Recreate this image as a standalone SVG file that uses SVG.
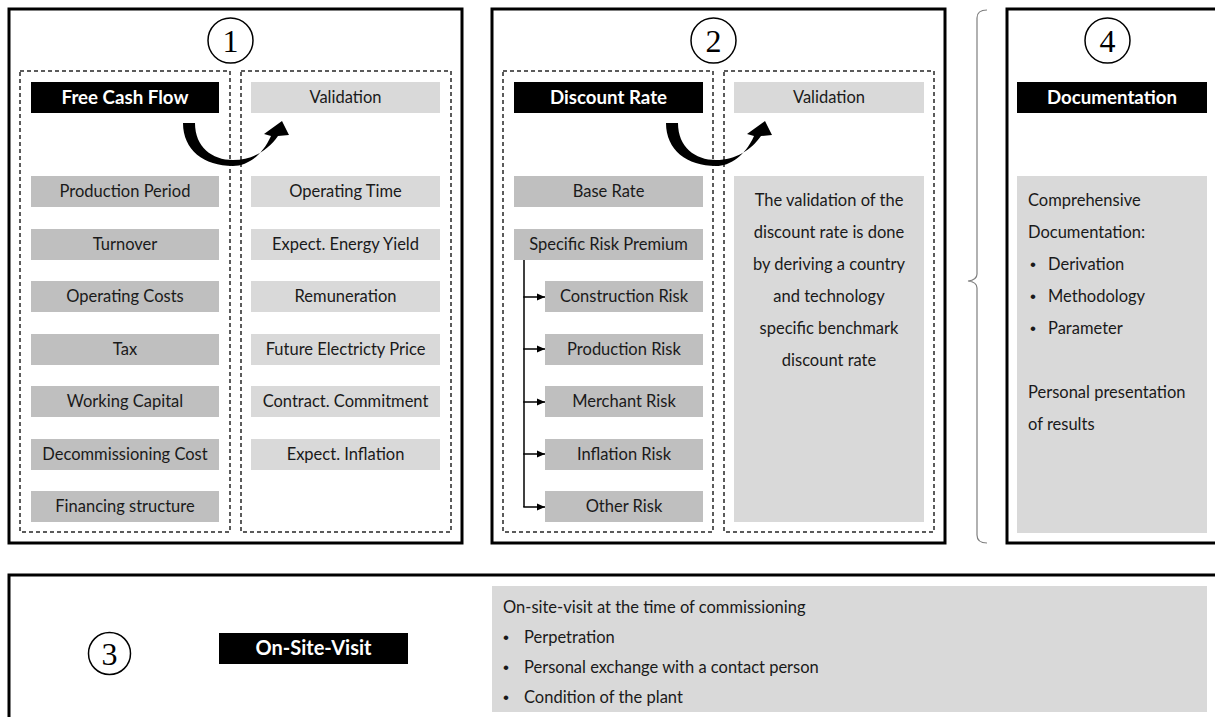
<svg xmlns="http://www.w3.org/2000/svg" width="1215" height="717" viewBox="0 0 1215 717">
<defs>
<style>
.panel{fill:none;stroke:#000;stroke-width:3}
.dash{fill:none;stroke:#262626;stroke-width:1.5;stroke-dasharray:4 3}
.hdr{fill:#000}
.hdrt{font-family:Lato,"Liberation Sans",sans-serif;font-weight:bold;font-size:18.7px;fill:#fff;text-anchor:middle}
.dk{fill:#bfbfbf}
.lt{fill:#d9d9d9}
.t{font-family:Lato,"Liberation Sans",sans-serif;font-size:16.5px;fill:#1a1a1a;text-anchor:middle}
.tl{font-family:Lato,"Liberation Sans",sans-serif;font-size:16.5px;fill:#1a1a1a}
.bul{font-family:"Liberation Sans",sans-serif;font-size:17px;fill:#1a1a1a;text-anchor:middle}
.circ{fill:#fff;stroke:#000;stroke-width:1.5}
.num{font-family:"Liberation Serif",serif;font-size:32px;fill:#000;text-anchor:middle}
.conn{fill:none;stroke:#000;stroke-width:1.5}
.curv{fill:#000}
</style>
<marker id="ah" markerWidth="8" markerHeight="8" refX="8" refY="4" orient="auto" markerUnits="userSpaceOnUse">
<path d="M0,0.5 L8,4 L0,7.5 Z" fill="#000"/>
</marker>
<path id="carrow" d="M183,123 L195,123 C195,147 212,160 233,160 C253,160 268,150 278,136 L289,135 L282,121 L264,134 L271,136 C262,156 247,166 233,166 C204,166 183,150 183,123 Z"/>
</defs>
<rect width="1215" height="717" fill="#fff"/>

<g id="panel1">
<rect class="panel" x="9" y="9" width="453" height="534"/>
<rect class="dash" x="20" y="71" width="210" height="461"/>
<rect class="dash" x="241" y="71" width="210" height="461"/>
<circle class="circ" cx="230.5" cy="40.5" r="22.5"/>
<text class="num" x="230.5" y="52">1</text>
</g>
<g id="fcf-header"><rect class="hdr" x="31" y="82" width="188" height="31"/><text class="hdrt" x="125" y="103.5">Free Cash Flow</text></g>
<g id="val1-header"><rect class="lt" x="251" y="82" width="189" height="31"/><text class="t" x="345.5" y="103">Validation</text></g>
<g id="fcf-items">
<g id="production-period"><rect class="dk" x="31" y="176" width="188" height="31"/><text class="t" x="125" y="197">Production Period</text></g>
<g id="turnover"><rect class="dk" x="31" y="229" width="188" height="31"/><text class="t" x="125" y="250">Turnover</text></g>
<g id="operating-costs"><rect class="dk" x="31" y="281" width="188" height="31"/><text class="t" x="125" y="302">Operating Costs</text></g>
<g id="tax"><rect class="dk" x="31" y="334" width="188" height="31"/><text class="t" x="125" y="355">Tax</text></g>
<g id="working-capital"><rect class="dk" x="31" y="386" width="188" height="31"/><text class="t" x="125" y="407">Working Capital</text></g>
<g id="decommissioning"><rect class="dk" x="31" y="439" width="188" height="31"/><text class="t" x="125" y="460">Decommissioning Cost</text></g>
<g id="financing"><rect class="dk" x="31" y="491" width="188" height="31"/><text class="t" x="125" y="512">Financing structure</text></g>
</g>
<g id="val1-items">
<g id="operating-time"><rect class="lt" x="251" y="176" width="189" height="31"/><text class="t" x="345.5" y="197">Operating Time</text></g>
<g id="energy-yield"><rect class="lt" x="251" y="229" width="189" height="31"/><text class="t" x="345.5" y="250">Expect. Energy Yield</text></g>
<g id="remuneration"><rect class="lt" x="251" y="281" width="189" height="31"/><text class="t" x="345.5" y="302">Remuneration</text></g>
<g id="electricity-price"><rect class="lt" x="251" y="334" width="189" height="31"/><text class="t" x="345.5" y="355">Future Electricty Price</text></g>
<g id="contract"><rect class="lt" x="251" y="386" width="189" height="31"/><text class="t" x="345.5" y="407">Contract. Commitment</text></g>
<g id="inflation"><rect class="lt" x="251" y="439" width="189" height="31"/><text class="t" x="345.5" y="460">Expect. Inflation</text></g>
</g>

<g id="panel2">
<rect class="panel" x="492" y="9" width="453" height="534"/>
<rect class="dash" x="503" y="71" width="210" height="461"/>
<rect class="dash" x="724" y="71" width="210" height="461"/>
<circle class="circ" cx="713.5" cy="40.5" r="22.5"/>
<text class="num" x="713.5" y="52">2</text>
</g>
<g id="dr-header"><rect class="hdr" x="514" y="82" width="189" height="31"/><text class="hdrt" x="608.5" y="103.5">Discount Rate</text></g>
<g id="val2-header"><rect class="lt" x="734" y="82" width="190" height="31"/><text class="t" x="829" y="103">Validation</text></g>
<g id="base-rate"><rect class="dk" x="514" y="176" width="189" height="31"/><text class="t" x="608.5" y="197">Base Rate</text></g>
<g id="srp"><rect class="dk" x="514" y="229" width="189" height="31"/><text class="t" x="608.5" y="250">Specific Risk Premium</text></g>
<g id="construction-risk"><rect class="dk" x="545" y="281" width="158" height="31"/><text class="t" x="624" y="302">Construction Risk</text></g>
<g id="production-risk"><rect class="dk" x="545" y="334" width="158" height="31"/><text class="t" x="624" y="355">Production Risk</text></g>
<g id="merchant-risk"><rect class="dk" x="545" y="386" width="158" height="31"/><text class="t" x="624" y="407">Merchant Risk</text></g>
<g id="inflation-risk"><rect class="dk" x="545" y="439" width="158" height="31"/><text class="t" x="624" y="460">Inflation Risk</text></g>
<g id="other-risk"><rect class="dk" x="545" y="491" width="158" height="31"/><text class="t" x="624" y="512">Other Risk</text></g>
<g id="val2-text"><rect class="lt" x="734" y="176" width="190" height="346"/>
<text class="t" x="829" y="206">The validation of the</text>
<text class="t" x="829" y="238">discount rate is done</text>
<text class="t" x="829" y="270">by deriving a country</text>
<text class="t" x="829" y="302">and technology</text>
<text class="t" x="829" y="334">specific benchmark</text>
<text class="t" x="829" y="366">discount rate</text>
</g>

<g id="brace"><path d="M987,10 Q977,10 977,18 L977,274 Q977,280 968,281 Q977,282 977,288 L977,535 Q977,543 987,543" fill="none" stroke="#7f7f7f" stroke-width="1.2"/></g>

<g id="panel4">
<rect class="panel" x="1007" y="9" width="240" height="534"/>
<circle class="circ" cx="1107.5" cy="40.5" r="22.5"/>
<text class="num" x="1107.5" y="52">4</text>
</g>
<g id="doc-header"><rect class="hdr" x="1017" y="82" width="190" height="31"/><text class="hdrt" x="1112" y="103.5">Documentation</text></g>
<g id="doc-text"><rect class="lt" x="1017" y="176" width="190" height="357"/>
<text class="tl" x="1028" y="206">Comprehensive</text>
<text class="tl" x="1028" y="238">Documentation:</text>
<text class="bul" x="1033" y="270">•</text><text class="tl" x="1048" y="270">Derivation</text>
<text class="bul" x="1033" y="302">•</text><text class="tl" x="1048" y="302">Methodology</text>
<text class="bul" x="1033" y="334">•</text><text class="tl" x="1048" y="334">Parameter</text>
<text class="tl" x="1028" y="398">Personal presentation</text>
<text class="tl" x="1028" y="430">of results</text>
</g>

<g id="panel3">
<rect class="panel" x="9" y="575" width="1240" height="160"/>
<circle class="circ" cx="109.5" cy="653.5" r="21"/>
<text class="num" x="109.5" y="665">3</text>
</g>
<g id="osv-header"><rect class="hdr" x="219" y="633" width="189" height="31"/><text class="hdrt" x="313.5" y="655" style="font-size:20px">On-Site-Visit</text></g>
<g id="osv-text"><rect class="lt" x="492" y="586" width="715" height="126"/>
<text class="tl" x="503" y="613">On-site-visit at the time of commissioning</text>
<text class="bul" x="506" y="643">•</text><text class="tl" x="524" y="643">Perpetration</text>
<text class="bul" x="506" y="673">•</text><text class="tl" x="524" y="673">Personal exchange with a contact person</text>
<text class="bul" x="506" y="703">•</text><text class="tl" x="524" y="703">Condition of the plant</text>
</g>

<g id="connectors">
<use href="#carrow" class="curv"/>
<use href="#carrow" class="curv" transform="translate(483,0)"/>
<path class="conn" d="M524,260 L524,507"/>
<path class="conn" d="M523.25,297 L545,297" marker-end="url(#ah)"/>
<path class="conn" d="M523.25,349 L545,349" marker-end="url(#ah)"/>
<path class="conn" d="M523.25,402 L545,402" marker-end="url(#ah)"/>
<path class="conn" d="M523.25,454 L545,454" marker-end="url(#ah)"/>
<path class="conn" d="M523.25,507 L545,507" marker-end="url(#ah)"/>
</g>
</svg>
